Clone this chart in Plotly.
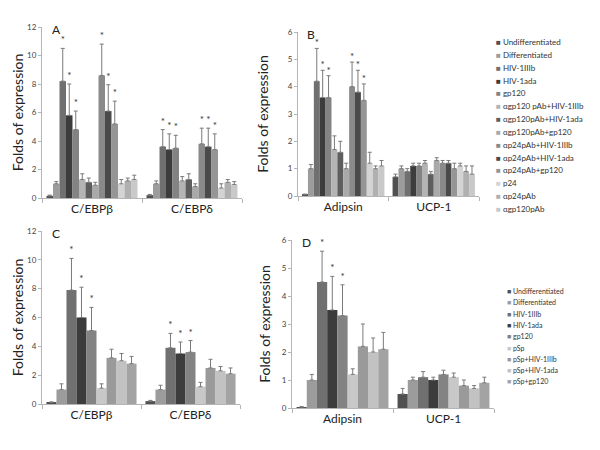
import plotly.graph_objects as go

# ---------------- data ----------------
cats_ab_left = ["C/EBPβ", "C/EBPδ"]
cats_ab_right = ["Adipsin", "UCP-1"]

names_top = ["Undifferentiated", "Differentiated", "HIV-1IIIb", "HIV-1ada", "gp120",
             "αgp120 pAb+HIV-1IIIb", "αgp120pAb+HIV-1ada", "αgp120pAb+gp120",
             "αp24pAb+HIV-1IIIb", "αp24pAb+HIV-1ada", "αp24pAb+gp120", "p24",
             "αp24pAb", "αgp120pAb"]
colors_top = ["#505050", "#9c9c9c", "#707070", "#3c3c3c", "#838383", "#b4b4b4",
              "#5e5e5e", "#a9a9a9", "#8a8a8a", "#4a4a4a", "#959595", "#d4d4d4",
              "#b0b0b0", "#c9c9c9"]

names_bot = ["Undifferentiated", "Differentiated", "HIV-1IIIb", "HIV-1ada", "gp120",
             "pSp", "pSp+HIV-1IIIb", "pSp+HIV-1ada", "pSp+gp120"]
colors_bot = ["#505050", "#9c9c9c", "#707070", "#3c3c3c", "#838383", "#c8c8c8",
              "#9a9a9a", "#c2c2c2", "#a3a3a3"]

# Panel A
a_beta = [0.15, 1.0, 8.2, 5.8, 4.8, 1.3, 1.1, 0.9, 8.6, 6.1, 5.2, 1.0, 1.2, 1.3]
a_beta_err = [0.05, 0.15, 2.3, 2.2, 1.3, 0.4, 0.3, 0.2, 2.2, 1.85, 1.6, 0.3, 0.2, 0.3]
a_beta_star = [0, 0, 1, 1, 1, 0, 0, 0, 1, 1, 1, 0, 0, 0]
a_delta = [0.2, 1.0, 3.6, 3.4, 3.5, 1.2, 1.3, 0.8, 3.8, 3.6, 3.4, 0.7, 1.1, 0.95]
a_delta_err = [0.05, 0.2, 1.2, 1.1, 0.9, 0.3, 0.4, 0.2, 1.1, 1.3, 1.1, 0.3, 0.2, 0.2]
a_delta_star = [0, 0, 1, 1, 1, 0, 0, 0, 1, 1, 1, 0, 0, 0]

# Panel B
b_adipsin = [0.05, 1.0, 4.2, 3.6, 3.6, 1.7, 1.6, 1.0, 4.0, 3.8, 3.5, 1.2, 1.0, 1.1]
b_adipsin_err = [0.02, 0.15, 1.2, 1.0, 0.8, 0.5, 0.4, 0.2, 0.9, 0.8, 0.6, 0.4, 0.1, 0.2]
b_adipsin_star = [0, 0, 1, 1, 1, 0, 0, 0, 1, 1, 1, 0, 0, 0]
b_ucp = [0.7, 1.0, 0.9, 1.1, 1.1, 1.2, 0.8, 1.3, 1.2, 1.2, 1.0, 1.1, 0.9, 0.8]
b_ucp_err = [0.1, 0.1, 0.1, 0.1, 0.1, 0.1, 0.1, 0.1, 0.1, 0.1, 0.2, 0.1, 0.2, 0.3]
b_ucp_star = [0] * 14

# Panel C
c_beta = [0.1, 1.0, 7.9, 6.0, 5.1, 1.1, 3.2, 3.0, 2.8]
c_beta_err = [0.05, 0.4, 2.2, 2.1, 1.6, 0.3, 0.6, 0.5, 0.5]
c_beta_star = [0, 0, 1, 1, 1, 0, 0, 0, 0]
c_delta = [0.2, 1.0, 3.9, 3.5, 3.6, 1.2, 2.5, 2.3, 2.1]
c_delta_err = [0.05, 0.3, 1.0, 0.8, 0.8, 0.3, 0.6, 0.3, 0.4]
c_delta_star = [0, 0, 1, 1, 1, 0, 0, 0, 0]

# Panel D
d_adipsin = [0.03, 1.0, 4.5, 3.5, 3.3, 1.2, 2.2, 2.0, 2.1]
d_adipsin_err = [0.02, 0.2, 1.1, 1.2, 1.1, 0.2, 0.8, 0.5, 0.6]
d_adipsin_star = [0, 0, 1, 1, 1, 0, 0, 0, 0]
d_ucp = [0.5, 1.0, 1.1, 1.0, 1.2, 1.1, 0.8, 0.7, 0.9]
d_ucp_err = [0.2, 0.1, 0.2, 0.1, 0.15, 0.15, 0.2, 0.1, 0.2]
d_ucp_star = [0] * 9

FONT = "Lato"
fig = go.Figure()


def add_panel(axn, cats, vals, errs, stars, names, colors):
    xa = "x" if axn == 1 else f"x{axn}"
    ya = "y" if axn == 1 else f"y{axn}"
    for i, (nm, col) in enumerate(zip(names, colors)):
        y = [v[i] for v in vals]
        e = [v[i] for v in errs]
        fig.add_trace(go.Bar(
            x=cats, y=y, name=nm, xaxis=xa, yaxis=ya, offsetgroup=str(i),
            marker=dict(color=col, line=dict(width=0)),
            error_y=dict(type="data", symmetric=False, array=e, arrayminus=[0] * len(e),
                         color="#7a7a7a", thickness=1, width=2),
            showlegend=False, hoverinfo="skip"))
        st = [s[i] for s in stars]
        if any(st):
            fig.add_trace(go.Bar(
                x=cats, y=[1e-4 if s else None for s in st],
                base=[yy + ee for yy, ee in zip(y, e)],
                text=["*" if s else "" for s in st], textposition="outside",
                cliponaxis=False, constraintext="none",
                textfont=dict(size=10, color="#333333", family=FONT),
                xaxis=xa, yaxis=ya, offsetgroup=str(i),
                marker=dict(color="rgba(0,0,0,0)", line=dict(width=0)),
                showlegend=False, hoverinfo="skip"))


add_panel(1, cats_ab_left, [a_beta, a_delta], [a_beta_err, a_delta_err],
          [a_beta_star, a_delta_star], names_top, colors_top)
add_panel(2, cats_ab_right, [b_adipsin, b_ucp], [b_adipsin_err, b_ucp_err],
          [b_adipsin_star, b_ucp_star], names_top, colors_top)
add_panel(3, cats_ab_left, [c_beta, c_delta], [c_beta_err, c_delta_err],
          [c_beta_star, c_delta_star], names_bot, colors_bot)
add_panel(4, cats_ab_right, [d_adipsin, d_ucp], [d_adipsin_err, d_ucp_err],
          [d_adipsin_star, d_ucp_star], names_bot, colors_bot)

W, H = 600, 450


def xdom(l, r):
    return [l / W, r / W]


def ydom(t, b):
    return [1 - b / H, 1 - t / H]


# domain, y max, tick step, title standoff
panels = {
    1: (xdom(42, 242), ydom(27, 198), 12, 2, 0),
    2: (xdom(298, 479), ydom(32, 196), 6, 1, 15),
    3: (xdom(42, 240), ydom(231, 404), 12, 2, 0),
    4: (xdom(292, 494), ydom(240, 408), 6, 1, 7),
}

layout = dict(width=W, height=H, margin=dict(l=0, r=0, t=0, b=0, autoexpand=False),
              plot_bgcolor="white", paper_bgcolor="white", barmode="group",
              bargap=0.09, bargroupgap=0, showlegend=False,
              font=dict(family=FONT, color="#333333"))
for n, (xd, yd, ymax, dt, so) in panels.items():
    sx = "" if n == 1 else str(n)
    layout["xaxis" + sx] = dict(domain=xd, anchor="y" + sx, showline=True, automargin=False,
                                linecolor="#b5b5b5", linewidth=1, ticks="outside",
                                tickson="boundaries", ticklen=4, tickcolor="#b5b5b5",
                                tickfont=dict(size=12, color="#222222", family=FONT),
                                showgrid=False, fixedrange=True)
    layout["yaxis" + sx] = dict(domain=yd, anchor="x" + sx, range=[0, ymax], dtick=dt,
                                automargin=False,
                                showline=True, linecolor="#b5b5b5", linewidth=1,
                                ticks="outside", ticklen=3, tickcolor="#b5b5b5",
                                showgrid=False, zeroline=False,
                                tickfont=dict(size=8, color="#444444", family=FONT),
                                title=dict(text="Folds of expression", standoff=so,
                                           font=dict(size=14, color="#222222", family=FONT)))
fig.update_layout(**layout)

# panel letters
for n, letter in zip([1, 2, 3, 4], ["A", "B", "C", "D"]):
    sx = "" if n == 1 else str(n)
    fig.add_annotation(text=letter, xref=f"x{sx} domain", yref=f"y{sx} domain",
                       x=0.04, y=0.985, xanchor="left", yanchor="middle", showarrow=False,
                       font=dict(size=12, color="#222222", family=FONT))


# legends built from the series lists
def add_legend(names, colors, x0, ytop, step, size):
    for k, (nm, col) in enumerate(zip(names, colors)):
        yc = ytop + k * step
        fig.add_annotation(
            text=f"<span style='color:{col}'>■</span> {nm}",
            xref="paper", yref="paper", x=x0 / W, y=1 - yc / H,
            xanchor="left", yanchor="middle", showarrow=False,
            font=dict(size=size, color="#333333", family=FONT))


add_legend(names_top, colors_top, 494, 42, 12.85, 8)
add_legend(names_bot, colors_bot, 505, 291, 11.3, 7)

fig.write_html("out.html", config={"displayModeBar": False},
               post_script="document.body.style.margin='0';document.body.style.padding='0';")
